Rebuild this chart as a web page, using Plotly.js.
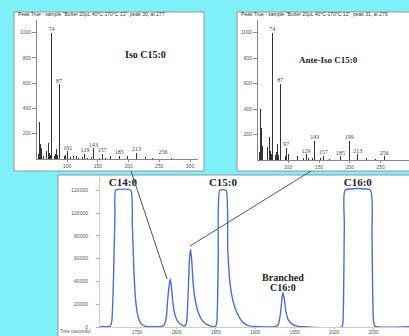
<!DOCTYPE html>
<html>
<head>
<meta charset="utf-8">
<script src="https://cdn.plot.ly/plotly-3.0.1.min.js"></script>
<style>html,body{margin:0;padding:0;background:#80F0F8;}#chart{width:409px;height:336px;}</style>
</head>
<body>
<div id="chart"></div>
<script>
// ---- Mass spectrum: Iso C15:0 ----
const isoMz  = [53, 55, 57, 59, 61, 67, 69, 71, 73, 74, 75, 79, 81, 83, 85, 87, 88, 95, 97, 98, 101, 105, 111, 115, 119, 125, 129, 133, 139, 143, 147, 153, 157, 163, 171, 185, 199, 213, 227, 239, 256, 270];
const isoInt = [40, 290, 120, 90, 20, 60, 125, 45, 35, 1000, 170, 25, 40, 80, 30, 590, 60, 20, 35, 15, 60, 12, 25, 20, 10, 12, 40, 10, 12, 85, 10, 10, 40, 8, 20, 25, 20, 50, 12, 8, 30, 6];
const isoLabels = [74, 87, 101, 129, 143, 157, 185, 213, 256];

// ---- Mass spectrum: Ante-Iso C15:0 ----
const anteMz  = [53, 55, 57, 59, 67, 69, 71, 73, 74, 75, 79, 81, 83, 85, 87, 88, 95, 97, 101, 111, 115, 125, 129, 133, 139, 143, 153, 157, 167, 171, 185, 199, 213, 227, 241, 256, 270];
const anteInt = [60, 400, 250, 110, 100, 180, 70, 50, 1000, 180, 40, 60, 125, 40, 600, 70, 30, 95, 50, 25, 30, 15, 45, 12, 15, 150, 12, 35, 10, 20, 30, 150, 45, 12, 10, 30, 6];
const anteLabels = [74, 87, 97, 129, 143, 157, 185, 199, 213, 256];

const specTicks = [100, 150, 200, 250, 300];
const specYTicks = [200, 400, 600, 800, 1000];

// ---- Chromatogram ----
const timeSec = [1703, 1712, 1716, 1718, 1720, 1722, 1723, 1742, 1744, 1746, 1748, 1751, 1755, 1760, 1770,
  1780, 1784, 1787, 1789, 1791, 1792, 1793, 1795, 1797, 1800, 1804, 1809,
  1811, 1813, 1815, 1816.5, 1818, 1819.5, 1821, 1823, 1827, 1832, 1838, 1845,
  1849, 1851, 1853, 1855, 1863, 1865, 1868, 1872, 1877, 1883, 1890, 1900,
  1925, 1929, 1932, 1934, 1935, 1936.5, 1939, 1942, 1946, 1952, 1960,
  2010, 2011.5, 2013, 2014, 2046, 2048, 2050, 2052, 2095];
const abundance = [300, 300, 800, 5000, 40000, 100000, 120000, 120000, 90000, 50000, 25000, 10000, 3000, 800, 300,
  300, 1500, 8000, 25000, 38000, 42000, 39000, 25000, 14000, 7000, 3000, 1000,
  1000, 5000, 32000, 60000, 68000, 57000, 40000, 27000, 14000, 6500, 2500, 600,
  400, 3000, 60000, 120000, 120000, 70000, 38000, 22000, 12000, 5000, 1500, 400,
  300, 2000, 12000, 26000, 30000, 26000, 13000, 6000, 3000, 1000, 300,
  300, 10000, 90000, 120000, 120000, 80000, 5000, 600, 300];
const timeTicks = [1750, 1800, 1850, 1900, 1950, 2000, 2050];
const abundTicks = [0, 20000, 40000, 60000, 80000, 100000, 120000];

const peakNames = ["C14:0", "C15:0", "Branched", "C16:0", "C16:0"];
const peakNameTimes = [1732, 1859, 1935, 1935, 2030];
const peakNameLevels = [121000, 121000, 38000, 29500, 121000];

const W = 409, H = 336;
const px = v => v / W;
const py = v => 1 - v / H;

function valueAt(mzArr, intArr, m) { return intArr[mzArr.indexOf(m)]; }

const tickFont = {family: "Liberation Sans, Arial, sans-serif", size: 5, color: "#555"};
const stickColor = "#333333";

const traces = [
  {type: "bar", x: isoMz, y: isoInt, width: 1.5, marker: {color: stickColor, line: {width: 0}}, xaxis: "x", yaxis: "y"},
  {type: "scatter", mode: "text", x: isoLabels, y: isoLabels.map(m => valueAt(isoMz, isoInt, m)),
   text: isoLabels.map(String), textposition: "top center",
   textfont: {family: "Liberation Serif, serif", size: 6, color: "#444"}, xaxis: "x", yaxis: "y", cliponaxis: false},
  {type: "bar", x: anteMz, y: anteInt, width: 1.5, marker: {color: stickColor, line: {width: 0}}, xaxis: "x2", yaxis: "y2"},
  {type: "scatter", mode: "text", x: anteLabels, y: anteLabels.map(m => valueAt(anteMz, anteInt, m)),
   text: anteLabels.map(String), textposition: "top center",
   textfont: {family: "Liberation Serif, serif", size: 6, color: "#444"}, xaxis: "x2", yaxis: "y2", cliponaxis: false},
  {type: "scatter", mode: "lines", x: timeSec, y: abundance, line: {color: "#4b6fd6", width: 1.4, shape: "spline", smoothing: 0.5},
   xaxis: "x3", yaxis: "y3"},
  {type: "scatter", mode: "text", x: peakNameTimes, y: peakNameLevels, text: peakNames, textposition: "top center",
   textfont: {family: "Liberation Serif, serif", size: [11, 11, 10, 10, 11], color: "#222", weight: "bold"},
   xaxis: "x3", yaxis: "y3", cliponaxis: false}
];

const specAxisX = {range: [51, 313], tickvals: specTicks, ticks: "outside", ticklen: 2, tickcolor: "#888",
  showline: true, linecolor: "#888", linewidth: 1, showgrid: false, zeroline: false, tickfont: tickFont};
const specAxisY = {range: [0, 1100], tickvals: specYTicks, ticks: "outside", ticklen: 4, tickcolor: "#888",
  showline: true, linecolor: "#888", linewidth: 1, showgrid: false, zeroline: false, tickfont: tickFont};

const layout = {
  width: W, height: H,
  margin: {l: 0, r: 0, t: 0, b: 0},
  paper_bgcolor: "#80F0F8",
  plot_bgcolor: "rgba(0,0,0,0)",
  showlegend: false,
  bargap: 0,
  xaxis: Object.assign({}, specAxisX, {domain: [px(37), px(198)], anchor: "y"}),
  yaxis: Object.assign({}, specAxisY, {domain: [py(159), py(20)], anchor: "x"}),
  xaxis2: Object.assign({}, specAxisX, {domain: [px(258), 1], range: [51, 296], anchor: "y2"}),
  yaxis2: Object.assign({}, specAxisY, {domain: [py(160), py(20)], anchor: "x2"}),
  xaxis3: {domain: [px(100), 1], range: [1703, 2095], tickvals: timeTicks, ticks: "outside", ticklen: 1, tickcolor: "#aaa",
    showline: true, linecolor: "#ccc", showgrid: false, zeroline: false,
    tickfont: {family: "Liberation Sans, Arial, sans-serif", size: 4.5, color: "#555"}, anchor: "y3"},
  yaxis3: {domain: [py(327), py(177)], range: [0, 131600], tickvals: abundTicks, tickformat: "d", ticks: "outside", ticklen: 3, tickcolor: "#aaa",
    showline: true, linecolor: "#ccc", showgrid: false, zeroline: false, tickfont: tickFont, ticklabelstandoff: 7, anchor: "x3"},
  shapes: [
    {type: "rect", xref: "paper", yref: "paper", x0: px(14), x1: px(204), y0: py(171), y1: py(12),
     fillcolor: "#ffffff", line: {color: "#8a9a9a", width: 1}, layer: "below"},
    {type: "rect", xref: "paper", yref: "paper", x0: px(237), x1: 1.02, y0: py(171), y1: py(12),
     fillcolor: "#ffffff", line: {color: "#8a9a9a", width: 1}, layer: "below"},
    {type: "rect", xref: "paper", yref: "paper", x0: px(58), x1: 1.02, y0: -0.02, y1: py(175),
     fillcolor: "#ffffff", line: {color: "#8a9a9a", width: 1}, layer: "below"},
    {type: "line", xref: "paper", yref: "paper", x0: px(131), y0: py(171), x1: px(167), y1: py(279),
     line: {color: "#555", width: 1}},
    {type: "line", xref: "paper", yref: "paper", x0: px(190), y0: py(246), x1: px(311), y1: py(171),
     line: {color: "#555", width: 1}}
  ],
  annotations: [
    {xref: "paper", yref: "paper", x: px(16), y: py(14), xanchor: "left", yanchor: "middle", showarrow: false,
     text: "Peak True - sample \"Butter 20µL 40°C-170°C 12\", peak 30, at 277",
     font: {family: "Liberation Sans, Arial, sans-serif", size: 5, color: "#333"}},
    {xref: "paper", yref: "paper", x: px(239), y: py(14), xanchor: "left", yanchor: "middle", showarrow: false,
     text: "Peak True - sample \"Butter 20µL 40°C-170°C 12\", peak 31, at 279",
     font: {family: "Liberation Sans, Arial, sans-serif", size: 5, color: "#333"}},
    {xref: "paper", yref: "paper", x: px(123), y: py(47), showarrow: false, text: "<b>Iso C15:0</b>",
     font: {family: "Liberation Serif, serif", size: 10, color: "#222"}},
    {xref: "paper", yref: "paper", x: px(360), y: py(53), showarrow: false, text: "<b>Ante-Iso C15:0</b>",
     font: {family: "Liberation Serif, serif", size: 9, color: "#222"}},
    {xref: "paper", yref: "paper", x: px(75), y: 0, xanchor: "center", yanchor: "bottom", showarrow: false, text: "Time (seconds)",
     font: {family: "Liberation Sans, Arial, sans-serif", size: 4.5, color: "#555"}}
  ]
};

Plotly.newPlot("chart", traces, layout, {staticPlot: true, displayModeBar: false});
</script>
</body>
</html>
